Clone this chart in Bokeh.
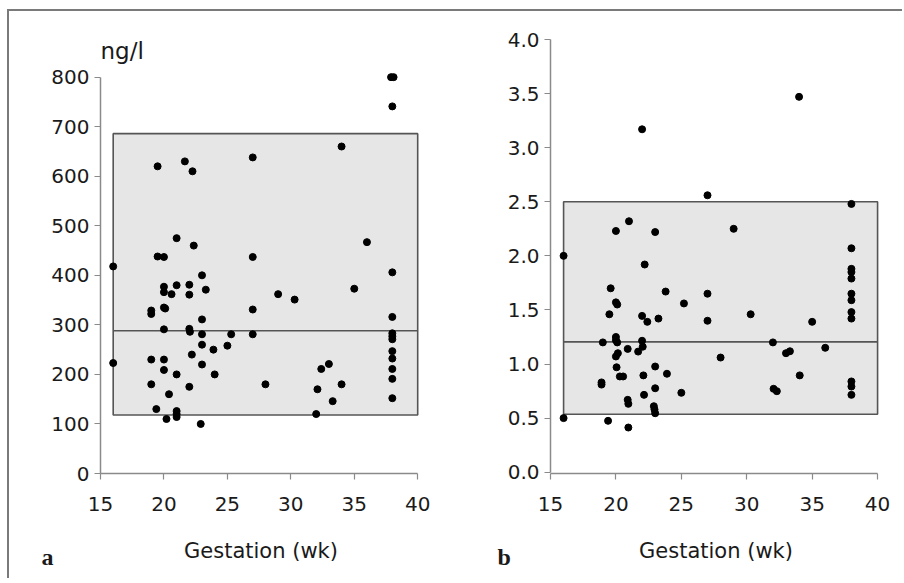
from bokeh.plotting import figure
from bokeh.layouts import row
from bokeh.models import Range1d, FixedTicker, PrintfTickFormatter, Label, Title
from bokeh.embed import file_html
from bokeh.resources import INLINE

# ---------------- data ----------------
x_ticks = [15, 20, 25, 30, 35, 40]
y_ticks_a = [0, 100, 200, 300, 400, 500, 600, 700, 800]
y_ticks_b = [0.0, 0.5, 1.0, 1.5, 2.0, 2.5, 3.0, 3.5, 4.0]

# panel a: reference range box and median (ng/l)
box_a_weeks = [16, 40]
box_a_range = [118, 686]
median_a = 288

# panel b: reference range box and median
box_b_weeks = [16, 40]
box_b_range = [0.536, 2.50]
median_b = 1.205

# panel a points (gestation week, ng/l)
a_weeks = [37.9, 38.1, 38, 34, 19.5, 21.65, 22.25, 27, 21, 22.35, 36,
           19.5, 20, 27, 16, 23, 38, 20, 21, 22, 23.3, 20, 20.6, 22, 29,
           30.3, 35, 19, 19, 20, 20.1, 27, 23, 38, 20, 22, 22.05, 23, 25.3,
           27, 38, 38, 38, 23, 23.9, 25, 22.2, 38, 38, 16, 19, 20, 23, 20,
           21, 24, 38, 32.4, 33, 38, 19, 22, 28, 34, 32.1, 20.4, 33.3, 38,
           19.4, 21, 21, 21, 20.2, 32, 22.9]
a_values = [800, 800, 741, 660, 620, 630, 610, 638, 475, 460, 467,
            438, 437, 437, 418, 400, 406, 377, 380, 381, 371, 366, 362, 361, 362,
            351, 373, 329, 322, 335, 333, 331, 311, 316, 291, 292, 286, 281, 281,
            281, 283, 277, 271, 260, 250, 258, 240, 247, 232, 223, 230, 230, 220, 209,
            200, 200, 211, 211, 221, 191, 180, 175, 180, 180, 170, 160, 146, 152,
            130, 126, 120, 114, 110, 120, 100]

# panel b points (gestation week, value)
b_weeks = [22, 34, 27, 20, 21, 23, 29, 38, 38, 16, 22.2, 38, 38, 38, 38, 38,
           38, 38, 19.6, 20, 20.1, 19.5, 23.8, 25.2, 27, 27, 30.3, 35, 22, 22.4,
           23.25, 19, 20, 20, 20.1, 22, 22.05, 21.7, 20.9, 20.15, 20, 20.05, 20.3,
           20.55, 22.1, 23, 23.9, 18.9, 18.9, 22.15, 23, 25, 28, 32, 33, 33.3,
           34.05, 36, 32.05, 32.3, 38, 38, 38, 20.9, 20.95, 22.9, 22.95, 23, 16,
           19.4, 20.95]
b_values = [3.17, 3.47, 2.56, 2.23, 2.32, 2.22, 2.25, 2.48, 2.07, 2.0, 1.92, 1.88,
            1.85, 1.79, 1.65, 1.59, 1.48, 1.42, 1.70, 1.57, 1.55, 1.46, 1.67, 1.56,
            1.65, 1.40, 1.46, 1.39, 1.445, 1.39, 1.42, 1.20, 1.25, 1.22, 1.20, 1.215,
            1.16, 1.115, 1.14, 1.10, 1.07, 0.97, 0.885, 0.885, 0.895, 0.977, 0.91,
            0.83, 0.81, 0.715, 0.776, 0.734, 1.06, 1.20, 1.10, 1.118, 0.895, 1.15,
            0.771, 0.749, 0.839, 0.792, 0.715, 0.669, 0.632, 0.61, 0.58, 0.545, 0.50,
            0.475, 0.413]

x_title = "Gestation (wk)"
unit_a = "ng/l"
panel_tags = ["a", "b"]

# ---------------- styling ----------------
TICK_FONT = "DejaVu Sans"
AXIS_GREY = "#8a8a8a"
BOX_FILL = "#e6e6e6"
BOX_LINE = "#555555"
TEXT = "#1a1a1a"


def make_panel(width, height, borders, y_range, y_ticks, y_bounds,
               weeks, vals, box_weeks, box_range, median, tag, tag_offset,
               fmt=None):
    p = figure(width=width, height=height, output_backend="svg",
               toolbar_location=None, x_range=Range1d(15, 40.3),
               y_range=y_range,
               min_border_left=borders[0], min_border_right=borders[1],
               min_border_top=borders[2], min_border_bottom=borders[3])
    p.outline_line_color = None
    p.xgrid.visible = False
    p.ygrid.visible = False
    p.background_fill_color = "white"
    p.border_fill_color = "white"

    p.quad(left=[box_weeks[0]], right=[box_weeks[1]],
           bottom=[box_range[0]], top=[box_range[1]],
           fill_color=BOX_FILL, line_color=BOX_LINE, line_width=1.6)
    p.segment(x0=[box_weeks[0]], x1=[box_weeks[1]], y0=[median], y1=[median],
              line_color=BOX_LINE, line_width=1.6)
    p.scatter(x=weeks, y=vals, size=7, fill_color="black", line_color="black")

    for ax in (p.xaxis[0], p.yaxis[0]):
        ax.axis_line_color = AXIS_GREY
        ax.axis_line_width = 1.5
        ax.major_tick_line_color = AXIS_GREY
        ax.major_tick_line_width = 1.2
        ax.major_tick_out = 6
        ax.major_tick_in = 0
        ax.minor_tick_line_color = None
        ax.major_label_text_font = TICK_FONT
        ax.major_label_text_font_size = "20px"
        ax.major_label_text_color = TEXT

    p.xaxis.ticker = FixedTicker(ticks=x_ticks)
    p.xaxis.bounds = (15, 40)
    p.xaxis.major_label_standoff = 17
    p.xaxis.axis_label = x_title
    p.xaxis.axis_label_text_font = TICK_FONT
    p.xaxis.axis_label_text_font_size = "21px"
    p.xaxis.axis_label_text_font_style = "normal"
    p.xaxis.axis_label_text_color = TEXT
    p.xaxis.axis_label_standoff = 25

    p.yaxis.ticker = FixedTicker(ticks=y_ticks)
    p.yaxis.bounds = y_bounds
    p.yaxis.major_label_standoff = 5
    if fmt is not None:
        p.yaxis.formatter = PrintfTickFormatter(format=fmt)

    p.add_layout(Title(text=tag, align="left", offset=tag_offset, standoff=-44,
                       vertical_align="top",
                       text_font="Liberation Serif", text_font_size="24px",
                       text_font_style="bold", text_color=TEXT), "below")
    return p


pa = make_panel(450, 567, (91, 38, 28, 105), Range1d(0, 876), y_ticks_a, (0, 800),
                a_weeks, a_values, box_a_weeks, box_a_range, median_a,
                panel_tags[0], -59)
pb = make_panel(443, 567, (91, 21, 28, 105), Range1d(-0.012, 4.0), y_ticks_b, (0, 4.0),
                b_weeks, b_values, box_b_weeks, box_b_range, median_b,
                panel_tags[1], -53, fmt="%.1f")

pa.add_layout(Label(x=15, y=852, text=unit_a, text_font=TICK_FONT,
                    text_font_size="23px", text_color=TEXT,
                    text_align="left", text_baseline="alphabetic"))

layout = row(pa, pb, styles={"border-top": "2px solid #7a7a7a",
                             "border-left": "2px solid #7a7a7a",
                             "margin-top": "9px", "margin-left": "7px"})

open("out.html", "w").write(file_html(layout, INLINE))
